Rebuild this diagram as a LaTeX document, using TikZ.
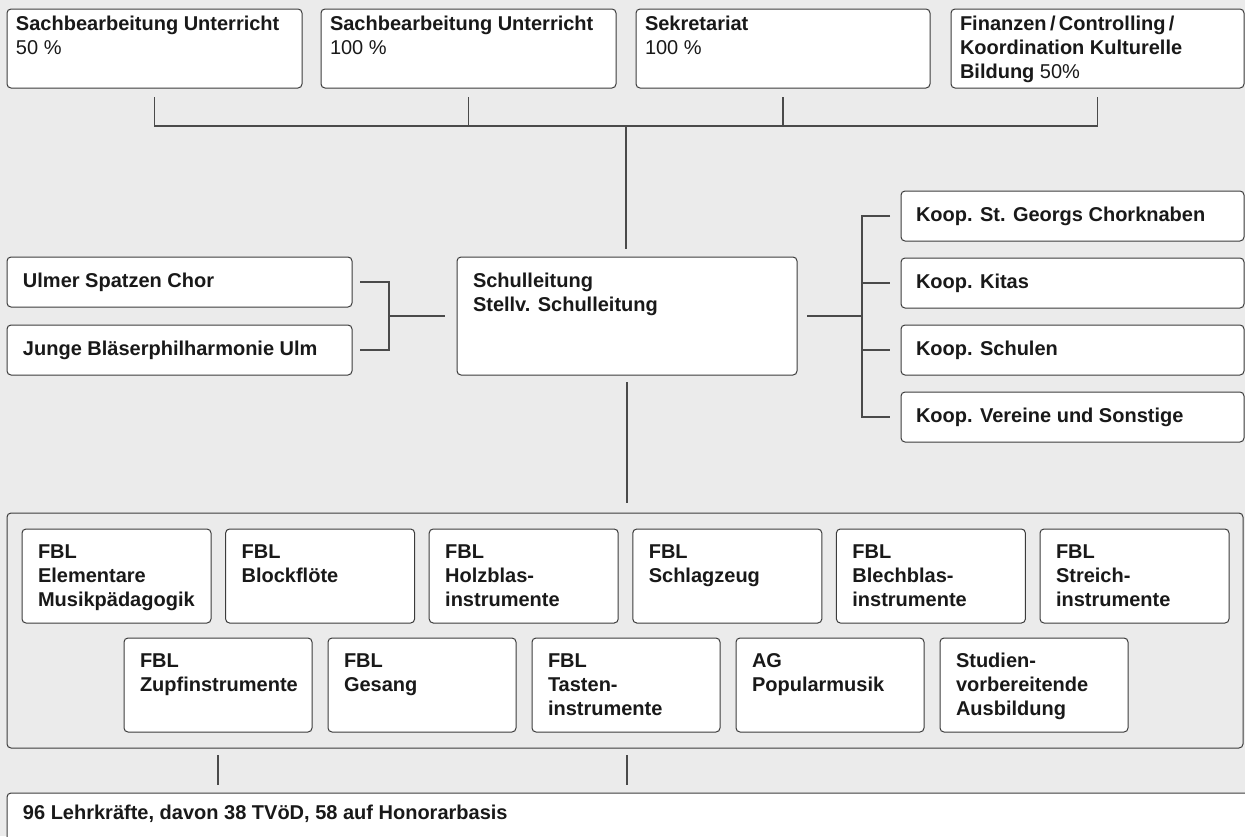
\documentclass[tikz,border=0pt]{standalone}
\usepackage{fontspec}
\setmainfont{Liberation Sans}
\definecolor{bgc}{HTML}{EBEBEB}
\definecolor{bdc}{HTML}{3C3C3C}
\definecolor{lnc}{HTML}{4A4A4A}
\newcommand\obox[8]{\node[obx, inner xsep=#6pt] (#1) at (#2,#3) {\parbox[c][#5pt][t]{\dimexpr#4pt-#6pt-#6pt\relax}{\raggedright\vspace*{#7pt}\strut#8}};}
\begin{document}
\begin{tikzpicture}[x=1pt,y=-1pt,
  obx/.style={draw=bdc, fill=white, line width=1pt, rounded corners=4pt, anchor=north west,
    inner ysep=0pt, outer sep=0pt, font=\bfseries\fontsize{20}{24}\selectfont, text=black!90},
  cont/.style={draw=bdc, line width=1pt, rounded corners=4pt, anchor=north west, inner sep=0pt, outer sep=0pt},
  conn/.style={draw=lnc, line width=1.3pt}]
\clip (0,0) rectangle (1245,836);
\fill[bgc] (0,0) rectangle (1245,836);
% top row
\obox{t1}{7}{9}{295}{79}{9}{4.5}{Sachbearbeitung Unterricht\\\mdseries 50 \%}
\obox{t2}{321}{9}{295}{79}{9}{4.5}{Sachbearbeitung Unterricht\\\mdseries 100 \%}
\obox{t3}{636}{9}{294}{79}{9}{4.5}{Sekretariat\\\mdseries 100 \%}
\obox{t4}{951}{9}{293}{79}{9}{4.5}{Finanzen\,/\,Controlling\,/\\Koordination Kulturelle\\Bildung {\mdseries 50\%}}
% center
\obox{sl}{457}{257}{340}{118}{16}{14}{Schulleitung\\Stellv. Schulleitung}
% left
\obox{u1}{7}{257}{345}{50}{16}{14}{Ulmer Spatzen Chor}
\obox{u2}{7}{325}{345}{50}{16}{14}{Junge Bläserphilharmonie Ulm}
% right
\obox{k1}{901}{191}{343}{50}{15}{14}{Koop. St. Georgs Chorknaben}
\obox{k2}{901}{258}{343}{50}{15}{14}{Koop. Kitas}
\obox{k3}{901}{325}{343}{50}{15}{14}{Koop. Schulen}
\obox{k4}{901}{392}{343}{50}{15}{14}{Koop. Vereine und Sonstige}
% container
\node[cont, minimum width=1236pt, minimum height=235pt] (fb) at (7,513) {};
\obox{f1}{22}{529}{189}{94}{16}{13}{FBL\\Elementare\\Musikpädagogik}
\obox{f2}{225.6}{529}{189}{94}{16}{13}{FBL\\Blockflöte}
\obox{f3}{429.2}{529}{189}{94}{16}{13}{FBL\\Holzblas-\\instrumente}
\obox{f4}{632.8}{529}{189}{94}{16}{13}{FBL\\Schlagzeug}
\obox{f5}{836.4}{529}{189}{94}{16}{13}{FBL\\Blechblas-\\instrumente}
\obox{f6}{1040}{529}{189}{94}{16}{13}{FBL\\Streich-\\instrumente}
\obox{g1}{124}{638}{188}{94}{16}{13}{FBL\\Zupfinstrumente}
\obox{g2}{328}{638}{188}{94}{16}{13}{FBL\\Gesang}
\obox{g3}{532}{638}{188}{94}{16}{13}{FBL\\Tasten-\\instrumente}
\obox{g4}{736}{638}{188}{94}{16}{13}{AG\\Popularmusik}
\obox{g5}{940}{638}{188}{94}{16}{13}{Studien-\\vorbereitende\\Ausbildung}
% bottom
\obox{lk}{7}{793}{1280}{80}{16}{10}{96 Lehrkräfte, davon 38 TVöD, 58 auf Honorarbasis}
% connectors top
\coordinate (tj) at (626,126);
\draw[conn] ([yshift=-9pt]t1.south) -- (t1.south |- tj) -- (t4.south |- tj) -- ([yshift=-9pt]t4.south);
\draw[conn] ([yshift=-9pt]t2.south) -- (t2.south |- tj);
\draw[conn] ([yshift=-9pt]t3.south) -- (t3.south |- tj);
\draw[conn] (tj) -- ([yshift=8pt]sl.north -| tj);
% left
\coordinate (lj) at (389,316);
\draw[conn] ([xshift=8pt]u1.east) -| (lj);
\draw[conn] ([xshift=8pt]u2.east) -| (lj);
\draw[conn] (lj) -- ([xshift=-12pt]sl.west |- lj);
% right
\coordinate (rj) at (862,316);
\draw[conn] ([xshift=10pt]sl.east |- rj) -- (rj);
\draw[conn] ([xshift=-11pt]k1.west) -- (rj |- k1.west) -- (rj |- k4.west) -- ([xshift=-11pt]k4.west);
\draw[conn] (rj |- k2.west) -- ([xshift=-11pt]k2.west);
\draw[conn] (rj |- k3.west) -- ([xshift=-11pt]k3.west);
% down
\coordinate (fbt) at ([yshift=10pt]fb.north);
\draw[conn] ([yshift=-7pt]sl.south) -- (sl.south |- fbt);
\coordinate (fbb) at ([yshift=-7pt]fb.south);
\coordinate (lkt) at ([yshift=8pt]lk.north);
\draw[conn] (fbb -| g1.south) -- (lkt -| g1.south);
\draw[conn] (fbb -| sl.south) -- (lkt -| sl.south);
\end{tikzpicture}
\end{document}
